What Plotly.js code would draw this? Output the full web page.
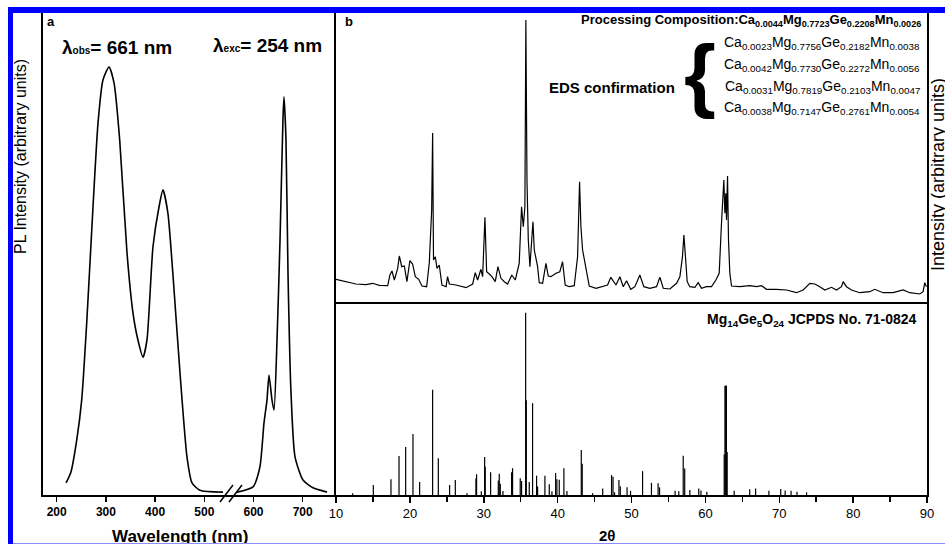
<!DOCTYPE html>
<html>
<head>
<meta charset="utf-8">
<script src="https://cdn.plot.ly/plotly-3.0.1.min.js"></script>
<style>
  html, body { margin: 0; padding: 0; background: #fff; }
  #wrap { position: relative; width: 945px; height: 544px; overflow: hidden; }
  #chart { width: 945px; height: 544px; }
  .frame { position: absolute; pointer-events: none; }
</style>
</head>
<body>
<div id="wrap">
  <div id="chart"></div>
  <div class="frame" style="left:8px;top:7px;width:937px;height:6px;background:#0000ff;"></div>
  <div class="frame" style="left:8px;top:7px;width:5px;height:537px;background:#0000ff;"></div>
  <div class="frame" style="left:13px;top:543px;width:932px;height:1px;background:#8c8cff;"></div>
</div>
<script>
// ---- Panel a: PL excitation (λobs = 661 nm) ----
const excWavelength = [219, 228.5, 240.7, 250.8, 261, 273.8, 284, 294, 306.3, 316.5, 328, 342.9, 355, 365, 375.4, 383.5, 395.7, 408, 416, 426, 436, 450.6, 464.8, 475, 491, 538];
const excIntensity  = [2.5, 4.6, 11.4, 19.7, 35.7, 59.8, 77.2, 86.1, 88.8, 85.5, 73.7, 50.2, 37.8, 32.2, 28.6, 32.2, 51.5, 59.8, 63.3, 58.5, 46.1, 25.3, 7.9, 2.5, 1.0, 0.6];

// ---- Panel a: PL emission (λexc = 254 nm) ----
const emWavelength = [566.5, 599, 613, 621.3, 627.4, 631.5, 637.6, 641.7, 647.8, 653.9, 660, 662, 666, 670.1, 676, 684.4, 700.6, 721, 749.5];
const emIntensity  = [0.6, 1.7, 5.8, 14.9, 19.7, 24.9, 19.7, 17.6, 32.2, 52.9, 78.4, 82.6, 73.7, 46.1, 21.8, 7.9, 3.1, 1.5, 0.6];

const wlTicks = [200, 300, 400, 500, 600, 700];

// ---- Panel b: measured XRD pattern ----
const twoTheta = [10.0, 11.35, 12.7, 14.06, 14.96, 15.86, 17.0, 17.3, 17.58, 17.9, 18.35, 18.57, 18.9, 19.25, 19.6, 20.0, 20.37, 20.73, 21.19, 21.64, 22.27, 22.63, 22.81, 22.95, 23.08, 23.2, 23.44, 23.67, 23.98, 24.34, 24.9, 25.1, 25.34, 26.24, 27.6, 28.5, 28.85, 29.17, 29.62, 29.85, 30.16, 30.39, 30.75, 31.1, 31.56, 31.92, 32.33, 32.78, 33.23, 33.8, 34.27, 34.8, 35.12, 35.35, 35.57, 35.7, 35.85, 36.03, 36.25, 36.48, 36.66, 36.84, 37.06, 37.29, 37.51, 37.97, 38.42, 38.73, 39.09, 39.77, 40.3, 40.67, 41.03, 41.57, 42.25, 42.7, 42.97, 43.15, 43.38, 43.74, 44.28, 45.2, 46.1, 46.76, 47.2, 47.9, 48.43, 48.88, 49.33, 49.9, 50.46, 51.13, 51.67, 52.49, 53.39, 53.84, 54.3, 55.2, 56.1, 56.55, 56.9, 57.09, 57.27, 57.54, 57.9, 58.58, 59.03, 59.48, 60.15, 60.83, 61.42, 61.87, 62.18, 62.5, 62.64, 62.77, 62.86, 63.0, 63.13, 63.31, 63.54, 64.66, 66.02, 66.92, 67.6, 68.27, 69.63, 70.98, 72.33, 73.24, 74.14, 74.81, 75.49, 76.17, 77.07, 77.75, 78.42, 78.65, 79.1, 79.78, 80.9, 82.26, 82.93, 84.06, 85.41, 86.77, 87.67, 89.02, 89.47, 89.7, 89.92];
const xrdCounts = [227, 203, 180, 173, 187, 167, 163, 270, 310, 220, 337, 460, 353, 360, 203, 413, 380, 253, 227, 160, 153, 393, 653, 920, 1690, 420, 453, 337, 370, 170, 153, 253, 180, 170, 143, 180, 293, 220, 327, 253, 847, 303, 280, 253, 203, 353, 237, 203, 180, 270, 220, 387, 953, 753, 953, 2820, 1220, 620, 353, 653, 803, 520, 453, 353, 193, 187, 387, 260, 253, 287, 303, 403, 170, 153, 163, 453, 1203, 753, 520, 387, 160, 137, 153, 170, 247, 170, 253, 153, 213, 127, 153, 270, 153, 137, 153, 247, 137, 130, 187, 253, 453, 670, 487, 203, 153, 147, 193, 137, 153, 153, 220, 287, 787, 1220, 887, 1087, 820, 1260, 620, 287, 160, 153, 163, 153, 163, 127, 127, 120, 93, 120, 187, 180, 153, 120, 147, 120, 153, 203, 153, 120, 93, 103, 127, 93, 93, 120, 93, 80, 103, 193, 153];

// ---- Panel b: Mg14Ge5O24 JCPDS No. 71-0824 reference lines ----
const refTwoTheta = [12.26, 15.05, 17.44, 18.53, 19.43, 20.42, 21.32, 23.08, 23.85, 25.38, 26.15, 27.73, 28.94, 29.03, 29.67, 30.12, 30.2, 30.93, 31.97, 32.1, 32.24, 32.6, 33.77, 33.9, 34.94, 35.12, 35.67, 35.76, 36.16, 36.61, 37.15, 37.29, 38.28, 38.87, 39.23, 39.73, 39.9, 40.22, 40.85, 41.26, 43.2, 43.33, 44.73, 46.1, 47.3, 47.5, 47.71, 48.3, 48.48, 49.4, 49.87, 51.5, 52.7, 53.6, 53.8, 55.9, 56.4, 57.0, 57.2, 57.9, 59.1, 59.4, 60.2, 62.55, 62.65, 62.75, 62.85, 62.95, 63.9, 66.0, 66.8, 68.6, 70.2, 70.8, 71.6, 72.4, 73.7];
const refIntensity = [1, 5.5, 8.6, 21.4, 26.4, 33.5, 7.1, 57.7, 20.2, 5.5, 8.2, 1, 9, 11.4, 2, 20.9, 15.5, 12.5, 7.9, 11.7, 6.2, 2.2, 12.5, 14.7, 9.2, 7.7, 100, 52, 7.1, 50.4, 10.6, 4.6, 10.6, 5.9, 2, 12.1, 8.6, 8.4, 14.7, 2.2, 24.7, 17.2, 1, 3.6, 10.9, 10, 1.5, 8.2, 4.8, 4.2, 2.3, 13.1, 6.7, 6.4, 4.2, 2.4, 2, 21.5, 14.5, 2.7, 3.6, 2.5, 1.8, 22.2, 60, 60, 60, 23.6, 2.4, 3.1, 3.6, 2.4, 3.3, 2.5, 2.4, 1.8, 1.5];

const thetaTicks = [10, 20, 30, 40, 50, 60, 70, 80, 90];

// ---------- build ----------
const W = 945, H = 544;
const px = x => x / W;
const py = y => 1 - y / H;
const FONT = 'Liberation Sans, Arial, Helvetica, sans-serif';

const stickX = [], stickY = [];
refTwoTheta.forEach((t, i) => { stickX.push(t, t, null); stickY.push(0, refIntensity[i], null); });

const traces = [
  { x: excWavelength, y: excIntensity, xaxis: 'x', yaxis: 'y', mode: 'lines',
    line: { color: '#000', width: 1.6, shape: 'spline', smoothing: 0.6 }, hoverinfo: 'skip' },
  { x: emWavelength, y: emIntensity, xaxis: 'x', yaxis: 'y', mode: 'lines',
    line: { color: '#000', width: 1.6, shape: 'spline', smoothing: 0.6 }, hoverinfo: 'skip' },
  { x: twoTheta, y: xrdCounts, xaxis: 'x3', yaxis: 'y3', mode: 'lines',
    line: { color: '#000', width: 1.2 }, hoverinfo: 'skip' },
  { x: stickX, y: stickY, xaxis: 'x2', yaxis: 'y2', mode: 'lines', connectgaps: false,
    line: { color: '#000', width: 1.2 }, hoverinfo: 'skip' }
];

const nm = x => 200 + (x - 56.7) / 0.492;

const layout = {
  width: W, height: H,
  margin: { l: 0, r: 0, t: 0, b: 0 },
  paper_bgcolor: '#fff', plot_bgcolor: 'rgba(0,0,0,0)',
  showlegend: false,
  font: { family: FONT, color: '#000' },
  xaxis: {
    domain: [px(43), px(336)], anchor: 'y', range: [nm(43), nm(336)],
    tickmode: 'array', tickvals: wlTicks, ticktext: wlTicks.map(String),
    ticks: 'outside', ticklen: 5, tickwidth: 1.5, tickcolor: '#000',
    showline: true, linewidth: 1.6, linecolor: '#000', showgrid: false, zeroline: false,
    tickfont: { family: FONT, size: 12, weight: 700, color: '#000' }
  },
  yaxis: {
    domain: [py(495), py(13)], anchor: 'x', range: [0, 100],
    showline: true, linewidth: 1.6, linecolor: '#000', showgrid: false, zeroline: false,
    showticklabels: false, ticks: ''
  },
  xaxis2: {
    domain: [px(336), px(927)], anchor: 'y2', range: [10, 90],
    tickmode: 'array', tickvals: thetaTicks, ticktext: thetaTicks.map(String),
    ticks: 'outside', ticklen: 6, tickwidth: 1.5, tickcolor: '#000',
    minor: { tickvals: [15, 25, 35, 45, 55, 65, 75, 85], ticks: 'outside', ticklen: 5, tickwidth: 1.5, tickcolor: '#000', showgrid: false },
    showline: true, linewidth: 1.6, linecolor: '#000', showgrid: false, zeroline: false,
    tickfont: { family: FONT, size: 13, color: '#000' }
  },
  yaxis2: {
    domain: [py(495), py(302)], anchor: 'x2', range: [0, 105.9],
    showline: true, mirror: true, linewidth: 1.6, linecolor: '#000', showgrid: false, zeroline: false,
    showticklabels: false, ticks: ''
  },
  xaxis3: {
    domain: [px(336), px(927)], anchor: 'y3', range: [10, 90], matches: 'x2',
    showline: true, linewidth: 2.2, linecolor: '#000', showgrid: false, zeroline: false,
    showticklabels: false, ticks: ''
  },
  yaxis3: {
    domain: [py(302), py(13)], anchor: 'x3', range: [0, 2890],
    showline: true, mirror: true, linewidth: 1.6, linecolor: '#000', showgrid: false, zeroline: false,
    showticklabels: false, ticks: ''
  },
  shapes: [
    { type: 'line', xref: 'paper', yref: 'paper', x0: px(220), y0: py(502), x1: px(233), y1: py(485), line: { color: '#000', width: 1.5 } },
    { type: 'line', xref: 'paper', yref: 'paper', x0: px(229), y0: py(502), x1: px(242), y1: py(485), line: { color: '#000', width: 1.5 } }
  ],
  annotations: []
};

const ann = (text, x, y, opts) => Object.assign({
  text, xref: 'paper', yref: 'paper', x: px(x), y: py(y), showarrow: false,
  xanchor: 'left', yanchor: 'middle', font: { family: FONT, size: 13, color: '#000' }
}, opts || {});

layout.annotations.push(
  ann('<b>a</b>', 45, 22, { font: { family: FONT, size: 13, color: '#000' } }),
  ann('<b>b</b>', 343, 22, { font: { family: FONT, size: 13, color: '#000' } }),
  ann("<b>λ<span style='font-size:10px'>obs</span>= 661 nm</b>", 60, 47, { font: { family: FONT, size: 19, color: '#000' } }),
  ann("<b>λ<span style='font-size:10px'>exc</span>= 254 nm</b>", 211, 45, { font: { family: FONT, size: 19, color: '#000' } }),
  ann('<b>Processing Composition:Ca<sub>0.0044</sub>Mg<sub>0.7723</sub>Ge<sub>0.2208</sub>Mn<sub>0.0026</sub></b>', 923, 21,
      { xanchor: 'right', font: { family: FONT, size: 13, color: '#000' } }),
  ann('Ca<sub>0.0023</sub>Mg<sub>0.7756</sub>Ge<sub>0.2182</sub>Mn<sub>0.0038</sub>', 922, 43, { xanchor: 'right', font: { family: FONT, size: 14, color: '#000' } }),
  ann('Ca<sub>0.0042</sub>Mg<sub>0.7730</sub>Ge<sub>0.2272</sub>Mn<sub>0.0056</sub>', 922, 65, { xanchor: 'right', font: { family: FONT, size: 14, color: '#000' } }),
  ann('Ca<sub>0.0031</sub>Mg<sub>0.7819</sub>Ge<sub>0.2103</sub>Mn<sub>0.0047</sub>', 922, 87, { xanchor: 'right', font: { family: FONT, size: 14, color: '#000' } }),
  ann('Ca<sub>0.0038</sub>Mg<sub>0.7147</sub>Ge<sub>0.2761</sub>Mn<sub>0.0054</sub>', 922, 108, { xanchor: 'right', font: { family: FONT, size: 14, color: '#000' } }),
  ann('<b>EDS confirmation</b>', 547, 87, { font: { family: FONT, size: 15, color: '#000' } }),
  ann('<b>{</b>', 700, 74, { xanchor: 'center', font: { family: FONT, size: 82, color: '#000' } }),
  ann('<b>Mg<sub>14</sub>Ge<sub>5</sub>O<sub>24</sub> JCPDS No. 71-0824</b>', 919, 320, { xanchor: 'right', font: { family: FONT, size: 14, color: '#000' } }),
  ann('<b>Wavelength (nm)</b>', 180, 536, { xanchor: 'center', font: { family: FONT, size: 17, color: '#000' } }),
  ann('<b>2θ</b>', 607, 535, { xanchor: 'center', font: { family: FONT, size: 15, color: '#000' } }),
  ann('PL Intensity (arbitrary units)', 20, 157, { xanchor: 'center', textangle: -90, font: { family: FONT, size: 16, color: '#000' } }),
  ann('Intensity (arbitrary units)', 938, 175, { xanchor: 'center', textangle: -90, font: { family: FONT, size: 18, color: '#000' } })
);

Plotly.newPlot('chart', traces, layout, { staticPlot: true, displayModeBar: false });
</script>
</body>
</html>
